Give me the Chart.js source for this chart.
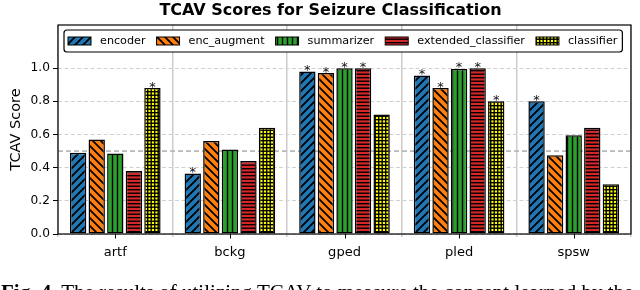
<!DOCTYPE html>
<html><head><meta charset="utf-8">
<script src="https://cdn.jsdelivr.net/npm/chart.js@4"></script>
<style>
html,body{margin:0;padding:0;width:640px;height:290px;overflow:hidden;background:#fff}
#wrap{position:absolute;left:0;top:0;width:640px;height:290px}
#cap{position:absolute;left:1px;top:282px;font-family:"Liberation Serif",serif;font-size:21px;line-height:21px;white-space:nowrap;color:#000}
</style></head><body>
<div id="wrap"><canvas id="c" width="640" height="290"></canvas></div>
<div id="cap"><b>Fig. 4.</b> The results of utilizing TCAV to measure the concept learned by the</div>
<script>
// ---- data ----
const categories = ['artf', 'bckg', 'gped', 'pled', 'spsw'];
const seriesNames = ['encoder', 'enc_augment', 'summarizer', 'extended_classifier', 'classifier'];
const encoder            = [0.49, 0.365, 0.98, 0.955, 0.80];
const encAugment         = [0.57, 0.56, 0.97, 0.88, 0.475];
const summarizer         = [0.485, 0.51, 1.00, 0.995, 0.595];
const extendedClassifier = [0.38, 0.44, 1.00, 1.00, 0.64];
const classifier         = [0.88, 0.64, 0.72, 0.80, 0.30];
// significance markers (*)
const encoderSig            = [0, 1, 1, 1, 1];
const encAugmentSig         = [0, 0, 1, 1, 0];
const summarizerSig         = [0, 0, 1, 1, 0];
const extendedClassifierSig = [0, 0, 1, 1, 0];
const classifierSig         = [1, 0, 0, 1, 0];
const yTicks = [0.0, 0.2, 0.4, 0.6, 0.8, 1.0];
const refValue = 0.5;
const chartTitle = 'TCAV Scores for Seizure Classification';
const yTitle = 'TCAV Score';

// ---- styles ----
const colors = ['#1f77b4', '#ff7f0e', '#2ca02c', '#d62728', '#ffff00'];
const hatchKinds = ['fwd', 'back', 'vert', 'horiz', 'grid'];

function makePattern(color, kind) {
  const c = document.createElement('canvas');
  let s = 7;
  if (kind === 'fwd' || kind === 'back') s = 8;
  if (kind === 'vert') s = 5;
  c.width = s; c.height = s;
  const g = c.getContext('2d');
  g.fillStyle = color; g.fillRect(0, 0, s, s);
  g.strokeStyle = '#000'; g.fillStyle = '#000'; g.lineWidth = 1.8;
  if (kind === 'fwd') {
    g.beginPath();
    g.moveTo(-2, s + 2); g.lineTo(s + 2, -2);
    g.moveTo(-2, 2); g.lineTo(2, -2);
    g.moveTo(s - 2, s + 2); g.lineTo(s + 2, s - 2);
    g.stroke();
  } else if (kind === 'back') {
    g.beginPath();
    g.moveTo(-2, -2); g.lineTo(s + 2, s + 2);
    g.moveTo(s - 2, -2); g.lineTo(s + 2, 2);
    g.moveTo(-2, s - 2); g.lineTo(2, s + 2);
    g.stroke();
  } else if (kind === 'vert') {
    g.fillRect(1.8, 0, 1.4, s);
  } else if (kind === 'horiz') {
    g.fillRect(0, 0, s, 1.4); g.fillRect(0, 3.5, s, 1.4);
  } else {
    g.fillRect(0, 0, s, 1.4); g.fillRect(0, 3.5, s, 1.4);
    g.fillRect(0, 0, 1.4, s); g.fillRect(3.5, 0, 1.4, s);
  }
  return g.createPattern(c, 'repeat');
}

const seriesData = [encoder, encAugment, summarizer, extendedClassifier, classifier];
const seriesSig = [encoderSig, encAugmentSig, summarizerSig, extendedClassifierSig, classifierSig];
const patterns = colors.map((c, i) => makePattern(c, hatchKinds[i]));

const datasets = seriesNames.map((name, i) => ({
  label: name,
  data: seriesData[i],
  sig: seriesSig[i],
  backgroundColor: patterns[i],
  borderColor: '#000',
  borderWidth: 1.5,
  borderSkipped: false,
  categoryPercentage: 0.81,
  barPercentage: 0.88
}));

const PAD_LEFT = 30, PLOT_LEFT = 58, PLOT_BOTTOM = 234, CANVAS_H = 290;

const refLinePlugin = {
  id: 'refLine',
  beforeDatasetsDraw(chart) {
    const {ctx, chartArea, scales} = chart;
    const y = scales.y.getPixelForValue(refValue);
    ctx.save();
    ctx.strokeStyle = '#b8b8b8';
    ctx.lineWidth = 1.8;
    ctx.setLineDash([5, 3]);
    ctx.beginPath();
    ctx.moveTo(chartArea.left, y); ctx.lineTo(chartArea.right, y);
    ctx.stroke();
    ctx.restore();
  }
};

const starsPlugin = {
  id: 'stars',
  afterDatasetsDraw(chart) {
    const {ctx} = chart;
    ctx.save();
    ctx.fillStyle = '#111';
    ctx.font = '13px "DejaVu Sans"';
    ctx.textAlign = 'center';
    ctx.textBaseline = 'alphabetic';
    chart.data.datasets.forEach((ds, di) => {
      const meta = chart.getDatasetMeta(di);
      meta.data.forEach((bar, i) => {
        if (ds.sig[i]) ctx.fillText('*', bar.x, bar.y + 2.5);
      });
    });
    ctx.restore();
  }
};

const framePlugin = {
  id: 'frame',
  afterDraw(chart) {
    const {ctx, chartArea, scales} = chart;
    ctx.save();
    ctx.strokeStyle = '#000';
    ctx.lineWidth = 1.2;
    ctx.strokeRect(chartArea.left, chartArea.top, chartArea.right - chartArea.left, chartArea.bottom - chartArea.top);
    ctx.beginPath();
    categories.forEach((c, i) => {
      const x = Math.round(scales.x.getPixelForValue(i)) + 0.5;
      ctx.moveTo(x, chartArea.bottom); ctx.lineTo(x, chartArea.bottom + 4.5);
    });
    ctx.lineWidth = 1;
    ctx.stroke();
    // legend
    ctx.font = '11.2px "DejaVu Sans"';
    const top = 30, h = 22, left = 64;
    let x = 68;
    const items = [];
    seriesNames.forEach((n, i) => {
      items.push({x, i, n});
      x += 23 + 9 + ctx.measureText(n).width + 11;
    });
    const right = x - 11 + 5;
    ctx.beginPath();
    ctx.roundRect(left, top, right - left, h, 3);
    ctx.fillStyle = '#fff';
    ctx.fill();
    ctx.lineWidth = 1.2;
    ctx.strokeStyle = '#000';
    ctx.stroke();
    items.forEach(it => {
      ctx.fillStyle = patterns[it.i];
      ctx.fillRect(it.x, top + 7, 23, 8);
      ctx.lineWidth = 1;
      ctx.strokeStyle = '#000';
      ctx.strokeRect(it.x, top + 7, 23, 8);
      ctx.fillStyle = '#000';
      ctx.textAlign = 'left';
      ctx.textBaseline = 'middle';
      ctx.fillText(it.n, it.x + 32, top + h / 2 + 0.5);
    });
    ctx.restore();
  }
};

new Chart(document.getElementById('c'), {
  type: 'bar',
  data: {labels: categories, datasets},
  options: {
    responsive: false,
    animation: false,
    devicePixelRatio: 1,
    layout: {padding: {left: PAD_LEFT, right: 9, top: 0, bottom: 0}},
    plugins: {
      legend: {display: false},
      tooltip: {enabled: false},
      title: {
        display: true,
        text: chartTitle,
        color: '#000',
        font: {family: '"DejaVu Sans"', size: 16, weight: 'bold', lineHeight: 1.2},
        padding: {top: 1, bottom: 4.8}
      }
    },
    scales: {
      x: {
        afterFit(s) { s.height = CANVAS_H - PLOT_BOTTOM; },
        grid: {offset: true, color: '#cccccc', lineWidth: 1.5, tickLength: 3, tickColor: '#cccccc'},
        border: {display: false},
        ticks: {color: '#000', padding: 8, font: {family: '"DejaVu Sans"', size: 13}}
      },
      y: {
        min: 0, max: 1.26,
        afterFit(s) { s.width = PLOT_LEFT - PAD_LEFT; },
        afterBuildTicks(s) { s.ticks = yTicks.map(v => ({value: v})); },
        grid: {color: '#d0d0d0', lineWidth: 1, tickLength: 5, tickColor: '#000', tickWidth: 1},
        border: {display: false, dash: [4, 2.5]},
        ticks: {color: '#000', padding: 3, font: {family: '"DejaVu Sans"', size: 12.2},
                callback: v => Number(v).toFixed(1)},
        title: {display: true, text: yTitle, color: '#000', padding: {top: -22, bottom: 0},
                font: {family: '"DejaVu Sans"', size: 14.5}}
      }
    }
  },
  plugins: [refLinePlugin, starsPlugin, framePlugin]
});
</script>
</body></html>
